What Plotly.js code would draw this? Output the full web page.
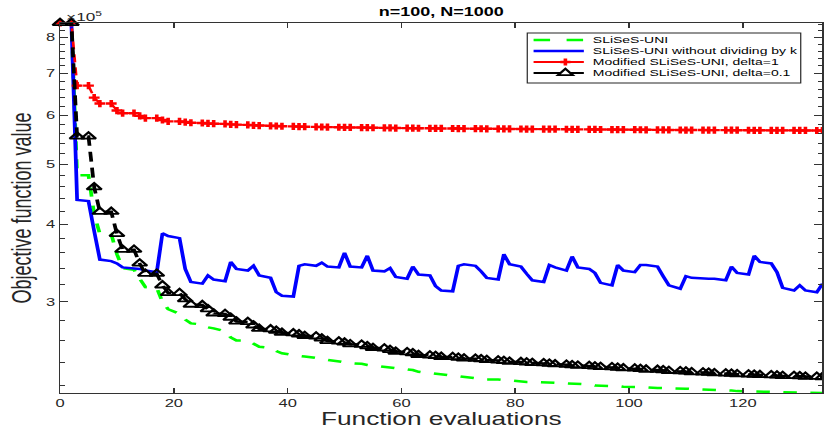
<!DOCTYPE html>
<html><head><meta charset="utf-8">
<script src="https://cdn.plot.ly/plotly-3.0.1.min.js"></script>
<style>
html,body{margin:0;padding:0;background:#fff;overflow:hidden}
#wrap{width:824px;height:430px;overflow:hidden;position:relative}
#chart{width:549px;height:430px;transform:scaleX(1.50091);transform-origin:0 0}
</style></head><body><div id="wrap"><div id="chart"></div></div>
<script>
// Function evaluations (x grid shared by all series)
const evals = [0,2,3,5,6,7,9,10,11,13,14,15,17,18,19,21,22,23,25,26,27,29,30,31,33,34,35,37,38,39,41,42,43,45,46,47,49,50,51,53,54,55,57,58,59,61,62,63,65,66,67,69,70,71,73,74,75,77,78,79,81,82,83,85,86,87,89,90,91,93,94,95,97,98,99,101,102,103,105,106,107,109,110,111,113,114,115,117,118,119,121,122,123,125,126,127,129,130,131,133,134];

// Objective function value (x 10^5)
const sliseUni = [8.44,8.44,4.80,4.80,4.15,3.86,3.86,3.58,3.40,3.38,3.27,3.17,3.16,3.00,2.92,2.87,2.81,2.77,2.76,2.73,2.72,2.69,2.63,2.60,2.60,2.57,2.54,2.53,2.50,2.48,2.46,2.455,2.45,2.44,2.43,2.42,2.41,2.40,2.39,2.385,2.375,2.37,2.36,2.355,2.35,2.335,2.33,2.315,2.305,2.30,2.29,2.28,2.275,2.27,2.26,2.255,2.25,2.25,2.245,2.24,2.235,2.23,2.23,2.225,2.225,2.225,2.22,2.215,2.215,2.21,2.20,2.20,2.20,2.195,2.19,2.19,2.185,2.185,2.18,2.18,2.178,2.175,2.175,2.172,2.17,2.167,2.167,2.165,2.16,2.155,2.153,2.152,2.15,2.148,2.146,2.145,2.145,2.143,2.142,2.141,2.14];

const withoutK = [8.44,8.44,4.38,4.36,3.90,3.51,3.49,3.46,3.41,3.40,3.39,3.37,3.35,3.87,3.83,3.80,3.39,3.23,3.21,3.31,3.26,3.24,3.48,3.39,3.37,3.43,3.31,3.28,3.11,3.07,3.06,3.43,3.45,3.43,3.47,3.42,3.41,3.60,3.42,3.41,3.56,3.37,3.36,3.40,3.29,3.27,3.42,3.32,3.31,3.18,3.13,3.12,3.43,3.45,3.43,3.36,3.28,3.26,3.58,3.45,3.42,3.33,3.25,3.23,3.44,3.41,3.37,3.55,3.41,3.39,3.34,3.22,3.19,3.44,3.37,3.35,3.44,3.44,3.42,3.30,3.19,3.15,3.30,3.28,3.27,3.27,3.27,3.25,3.42,3.34,3.32,3.56,3.48,3.46,3.35,3.16,3.13,3.19,3.13,3.11,3.21];

const modDelta1 = [8.44,8.44,6.69,6.69,6.40,6.26,6.26,6.10,6.04,6.04,5.98,5.93,5.93,5.89,5.86,5.86,5.845,5.83,5.825,5.815,5.81,5.805,5.795,5.79,5.785,5.775,5.77,5.765,5.76,5.755,5.752,5.748,5.745,5.742,5.739,5.736,5.734,5.731,5.729,5.727,5.725,5.723,5.721,5.719,5.717,5.716,5.714,5.713,5.711,5.71,5.708,5.707,5.706,5.704,5.703,5.702,5.701,5.70,5.699,5.698,5.697,5.696,5.695,5.694,5.693,5.692,5.691,5.69,5.689,5.688,5.687,5.686,5.685,5.684,5.683,5.682,5.681,5.68,5.679,5.678,5.677,5.676,5.675,5.675,5.674,5.673,5.673,5.672,5.671,5.671,5.67,5.669,5.669,5.668,5.668,5.667,5.667,5.666,5.666,5.665,5.665];

const modDelta01 = [8.44,8.44,5.54,5.54,4.59,4.19,4.19,3.86,3.64,3.64,3.46,3.33,3.33,3.19,3.10,3.10,3.03,2.97,2.965,2.92,2.875,2.87,2.83,2.79,2.785,2.75,2.715,2.71,2.695,2.675,2.67,2.66,2.645,2.64,2.62,2.595,2.59,2.58,2.565,2.56,2.545,2.53,2.525,2.51,2.495,2.49,2.48,2.465,2.46,2.455,2.447,2.445,2.44,2.432,2.43,2.425,2.418,2.415,2.41,2.403,2.40,2.397,2.392,2.39,2.386,2.38,2.377,2.373,2.368,2.366,2.362,2.357,2.355,2.35,2.345,2.343,2.339,2.334,2.332,2.328,2.323,2.321,2.317,2.312,2.31,2.307,2.303,2.301,2.298,2.294,2.293,2.29,2.287,2.286,2.283,2.28,2.279,2.277,2.274,2.273,2.27];

const seriesNames = ['SLiSeS-UNI','SLiSeS-UNI without dividing by k','Modified SLiSeS-UNI, delta=1','Modified SLiSeS-UNI, delta=0.1'];
const xTicks = [0,20,40,60,80,100,120];
const yTicks = [3,4,5,6,7,8];
const yMinorTicks = [2.2,2.4,2.6,2.8,3.2,3.4,3.6,3.8,4.2,4.4,4.6,4.8,5.2,5.4,5.6,5.8,6.2,6.4,6.6,6.8,7.2,7.4,7.6,7.8,8.2,8.4];
const titleText = 'n=100, N=1000';
const xTitle = 'Function evaluations';
const yTitle = 'Objective function value';

const FONT = 'Liberation Sans, Arial, Helvetica, sans-serif';
const W = 549, H = 430, M = {l:40, r:1, t:23, b:37};
const PW = W - M.l - M.r, PH = H - M.t - M.b;
const px = v => v / PW;
const py = v => 1 - v / PH;

const traces = [
  {x: evals, y: sliseUni, type:'scatter', mode:'lines', name: seriesNames[0],
   line:{color:'#00ff00', width:2.5, dash:'9px,9px'}},
  {x: evals, y: withoutK, type:'scatter', mode:'lines', name: seriesNames[1],
   line:{color:'#0000ff', width:2.5}},
  {x: evals, y: modDelta1, type:'scatter', mode:'lines+markers', name: seriesNames[2],
   line:{color:'#ff0000', width:1.8, dash:'8px,5px'}, cliponaxis:false,
   marker:{symbol:'cross', size:6, color:'#ff0000', line:{width:0}}},
  {x: evals, y: modDelta01, type:'scatter', mode:'lines+markers', name: seriesNames[3],
   line:{color:'#000000', width:2.5, dash:'10px,6px'}, cliponaxis:false,
   marker:{symbol:'triangle-up-open', size:8.5, color:'#000000', line:{width:1.8, color:'#000'}}}
];

// custom compact legend
const rowsY = [17, 28, 39, 50];
const sx0 = 315.5, sx1 = 349, mx = 336.7, tx = 355;
const shapes = [
  {type:'rect', xref:'paper', yref:'paper', x0:px(311.3), x1:px(493.5), y0:py(10), y1:py(60),
   line:{color:'#262626', width:0.8}, fillcolor:'#ffffff', layer:'above'}
];
const sampleStyles = [
  {color:'#00ff00', width:2.5, dash:'11px,11px'},
  {color:'#0000ff', width:2.5, dash:'solid'},
  {color:'#ff0000', width:1.8, dash:'solid'},
  {color:'#000000', width:2.2, dash:'solid'}
];
rowsY.forEach((ry, i) => {
  shapes.push({type:'line', xref:'paper', yref:'paper', x0:px(sx0), x1:px(sx1), y0:py(ry), y1:py(ry),
    line: sampleStyles[i], layer:'above'});
});
// red plus glyph
(function(){
  const r = rowsY[2], h = 3.4;
  shapes.push({type:'path', xref:'paper', yref:'paper', layer:'above',
    path:`M${px(mx-h)},${py(r)} L${px(mx+h)},${py(r)} M${px(mx)},${py(r-h)} L${px(mx)},${py(r+h)}`,
    line:{color:'#ff0000', width:2.4}});
})();
// black triangle glyph
(function(){
  const r = rowsY[3], rt = 4.9, rs = 2.1, ra = 4.25;
  shapes.push({type:'path', xref:'paper', yref:'paper', layer:'above',
    path:`M${px(mx-rt)},${py(r+rs)} L${px(mx+rt)},${py(r+rs)} L${px(mx)},${py(r-ra)} Z`,
    line:{color:'#000000', width:1.8}, fillcolor:'rgba(255,255,255,1)'});
})();

const annotations = seriesNames.map((n, i) => ({
  xref:'paper', yref:'paper', x:px(tx), y:py(rowsY[i]), xanchor:'left', yanchor:'middle',
  showarrow:false, text:n, borderpad:0, borderwidth:0,
  font:{family:FONT, size:9.3, color:'#000'}
}));
annotations.push({xref:'paper', yref:'paper', x:0, y:1, xshift:2, yshift:-2, xanchor:'left', yanchor:'bottom',
  showarrow:false, text:'\u00d710<sup>5</sup>', font:{family:FONT, size:11.5, color:'#262626'}});

const axisCommon = {
  showline:true, linecolor:'#333', linewidth:1, mirror:'ticks', ticks:'inside',
  tickcolor:'#333', tickwidth:1, showgrid:false, zeroline:false,
  tickfont:{family:FONT, size:11, color:'#262626'}
};

const layout = {
  width:W, height:H, autosize:false,
  margin:{l:M.l, r:M.r, t:M.t, b:M.b, pad:0},
  paper_bgcolor:'#fff', plot_bgcolor:'#fff',
  showlegend:false,
  font:{family:FONT, color:'#262626'},
  title:{text:'<b>'+titleText+'</b>', font:{family:FONT, size:12, color:'#000'}, x:0.5, xref:'paper', xanchor:'center', y:1-12/H, yref:'container', yanchor:'middle'},
  xaxis:Object.assign({}, axisCommon, {
    range:[0,134], tickmode:'array', tickvals:xTicks, ticktext:xTicks.map(String), ticklen:5,
    title:{text:xTitle, font:{family:FONT, size:17.5, color:'#262626'}, standoff:0}
  }),
  yaxis:Object.assign({}, axisCommon, {
    type:'log', range:[Math.log10(2.14), Math.log10(8.44)],
    tickmode:'array', tickvals:yTicks, ticktext:yTicks.map(String), ticklen:5.5,
    minor:{tickmode:'array', tickvals:yMinorTicks, ticks:'inside', ticklen:3.3, tickcolor:'#333', tickwidth:1, showgrid:false},
    title:{text:yTitle, font:{family:FONT, size:18, color:'#262626'}, standoff:4}
  }),
  shapes:shapes,
  annotations:annotations
};

Plotly.newPlot('chart', traces, layout, {staticPlot:true, displayModeBar:false});
</script>
</body></html>
